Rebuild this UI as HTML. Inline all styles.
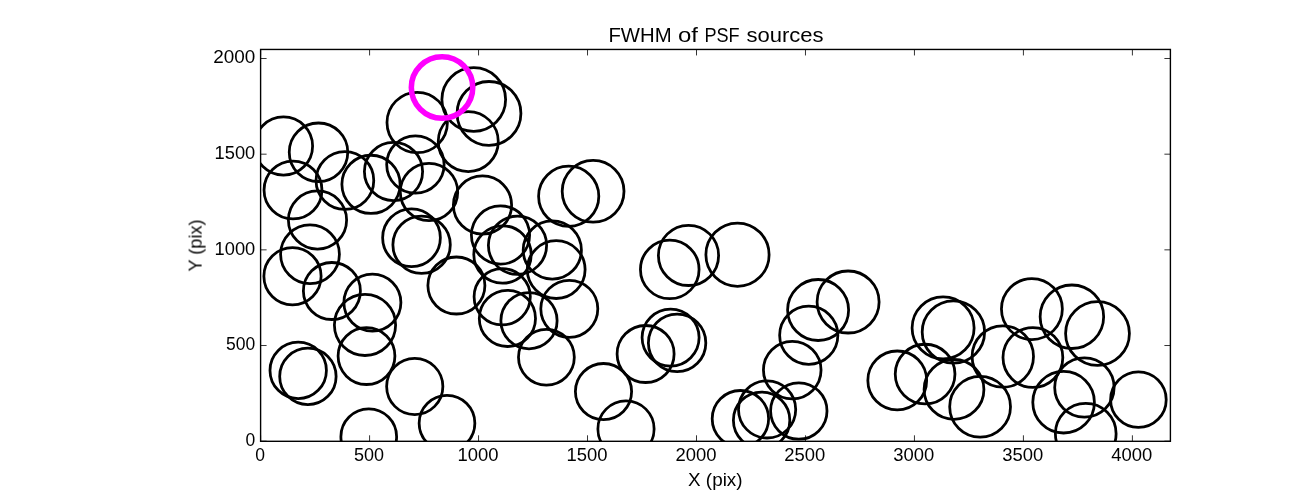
<!DOCTYPE html>
<html><head><meta charset="utf-8"><title>FWHM of PSF sources</title>
<style>
html,body{margin:0;padding:0;background:#fff;}
body{width:1300px;height:490px;overflow:hidden;}
svg{display:block;}
text{font-family:"Liberation Sans",sans-serif;fill:#000;}
</style></head><body>
<svg width="1300" height="490" viewBox="0 0 1300 490">
<rect x="0" y="0" width="1300" height="490" fill="#ffffff"/>
<defs><clipPath id="ax"><rect x="260.60" y="49.45" width="909.80" height="391.85"/></clipPath></defs>

<g clip-path="url(#ax)" fill="none" stroke="#000" stroke-width="2.78">
<circle cx="473.75" cy="99.45" r="31.86"/>
<circle cx="489.00" cy="113.40" r="31.91"/>
<circle cx="417.20" cy="122.50" r="30.21"/>
<circle cx="468.25" cy="141.60" r="30.01"/>
<circle cx="283.50" cy="146.00" r="29.11"/>
<circle cx="318.50" cy="152.25" r="29.26"/>
<circle cx="293.00" cy="190.00" r="28.96"/>
<circle cx="317.50" cy="220.00" r="29.11"/>
<circle cx="344.90" cy="180.50" r="28.86"/>
<circle cx="371.00" cy="184.35" r="29.11"/>
<circle cx="393.50" cy="171.50" r="29.11"/>
<circle cx="415.40" cy="164.50" r="28.71"/>
<circle cx="429.00" cy="192.00" r="28.71"/>
<circle cx="482.50" cy="205.00" r="29.11"/>
<circle cx="568.70" cy="196.20" r="30.11"/>
<circle cx="593.10" cy="191.30" r="30.91"/>
<circle cx="310.00" cy="254.30" r="29.41"/>
<circle cx="292.50" cy="276.30" r="28.61"/>
<circle cx="331.90" cy="291.00" r="28.51"/>
<circle cx="372.40" cy="302.60" r="28.51"/>
<circle cx="365.00" cy="324.90" r="30.61"/>
<circle cx="411.50" cy="237.75" r="28.86"/>
<circle cx="421.60" cy="244.75" r="28.71"/>
<circle cx="456.40" cy="285.50" r="28.51"/>
<circle cx="500.50" cy="235.00" r="29.11"/>
<circle cx="517.50" cy="245.30" r="29.11"/>
<circle cx="502.50" cy="254.50" r="28.71"/>
<circle cx="552.30" cy="250.00" r="29.11"/>
<circle cx="556.20" cy="269.60" r="28.91"/>
<circle cx="502.20" cy="296.80" r="28.11"/>
<circle cx="507.40" cy="318.40" r="28.11"/>
<circle cx="529.00" cy="320.70" r="28.11"/>
<circle cx="569.30" cy="308.80" r="28.51"/>
<circle cx="546.40" cy="357.30" r="27.91"/>
<circle cx="366.50" cy="356.10" r="28.41"/>
<circle cx="298.20" cy="370.40" r="28.21"/>
<circle cx="307.90" cy="376.40" r="28.21"/>
<circle cx="414.75" cy="386.50" r="28.11"/>
<circle cx="447.00" cy="423.25" r="27.86"/>
<circle cx="368.75" cy="436.75" r="27.86"/>
<circle cx="688.50" cy="255.40" r="30.11"/>
<circle cx="737.50" cy="254.70" r="31.61"/>
<circle cx="669.75" cy="269.40" r="29.31"/>
<circle cx="818.10" cy="310.00" r="30.51"/>
<circle cx="848.10" cy="302.00" r="31.01"/>
<circle cx="808.75" cy="335.25" r="29.11"/>
<circle cx="670.60" cy="337.60" r="28.51"/>
<circle cx="677.10" cy="342.90" r="28.71"/>
<circle cx="645.60" cy="354.00" r="28.51"/>
<circle cx="603.50" cy="391.60" r="28.11"/>
<circle cx="626.00" cy="429.00" r="28.11"/>
<circle cx="792.25" cy="370.10" r="28.81"/>
<circle cx="740.40" cy="418.70" r="28.21"/>
<circle cx="767.10" cy="409.40" r="28.61"/>
<circle cx="798.80" cy="411.00" r="28.21"/>
<circle cx="761.60" cy="420.25" r="28.21"/>
<circle cx="943.10" cy="327.90" r="31.01"/>
<circle cx="953.40" cy="332.00" r="31.21"/>
<circle cx="1031.90" cy="309.10" r="30.46"/>
<circle cx="1071.90" cy="316.75" r="31.76"/>
<circle cx="1097.50" cy="333.50" r="31.91"/>
<circle cx="1002.80" cy="356.50" r="30.71"/>
<circle cx="1032.90" cy="357.50" r="29.91"/>
<circle cx="925.10" cy="374.10" r="29.86"/>
<circle cx="897.25" cy="380.40" r="29.41"/>
<circle cx="954.00" cy="389.40" r="29.91"/>
<circle cx="980.10" cy="406.75" r="30.41"/>
<circle cx="1063.60" cy="402.20" r="30.81"/>
<circle cx="1084.40" cy="387.50" r="29.71"/>
<circle cx="1085.75" cy="433.75" r="30.36"/>
<circle cx="1138.40" cy="399.65" r="27.81"/>
<circle cx="442.05" cy="87.45" r="30.72" stroke="#ff00ff" stroke-width="5.56"/>
</g>
<g stroke="#000" stroke-width="0.8" fill="none">
<path d="M260.60 441.30V435.30M260.60 49.45V55.45"/>
<path d="M369.58 441.30V435.30M369.58 49.45V55.45"/>
<path d="M478.55 441.30V435.30M478.55 49.45V55.45"/>
<path d="M587.52 441.30V435.30M587.52 49.45V55.45"/>
<path d="M696.50 441.30V435.30M696.50 49.45V55.45"/>
<path d="M805.48 441.30V435.30M805.48 49.45V55.45"/>
<path d="M914.45 441.30V435.30M914.45 49.45V55.45"/>
<path d="M1023.42 441.30V435.30M1023.42 49.45V55.45"/>
<path d="M1132.40 441.30V435.30M1132.40 49.45V55.45"/>
<path d="M260.60 441.20H266.60M1170.40 441.20H1164.40"/>
<path d="M260.60 345.52H266.60M1170.40 345.52H1164.40"/>
<path d="M260.60 249.85H266.60M1170.40 249.85H1164.40"/>
<path d="M260.60 154.18H266.60M1170.40 154.18H1164.40"/>
<path d="M260.60 58.50H266.60M1170.40 58.50H1164.40"/>
</g>
<rect x="260.60" y="49.45" width="909.80" height="391.85" fill="none" stroke="#000" stroke-width="1.39"/>
<g style="will-change:transform;opacity:0.999">
<text x="608.40" y="42.00" font-size="20.00px" text-anchor="start" textLength="63.2" lengthAdjust="spacingAndGlyphs">FWHM</text>
<text x="678.00" y="42.00" font-size="20.00px" text-anchor="start" textLength="20.0" lengthAdjust="spacingAndGlyphs">of</text>
<text x="704.40" y="42.00" font-size="20.00px" text-anchor="start" textLength="35.2" lengthAdjust="spacingAndGlyphs">PSF</text>
<text x="746.40" y="42.00" font-size="20.00px" text-anchor="start" textLength="77.2" lengthAdjust="spacingAndGlyphs">sources</text>
<text x="715.30" y="485.70" font-size="17.50px" text-anchor="middle" textLength="54.5" lengthAdjust="spacingAndGlyphs">X (pix)</text>
<text transform="translate(201.6,245.5) rotate(-90)" x="0" y="0" font-size="17.50px" text-anchor="middle" textLength="52" lengthAdjust="spacingAndGlyphs">Y (pix)</text>
<text x="260.00" y="460.80" font-size="17.50px" text-anchor="middle">0</text>
<text x="368.98" y="460.80" font-size="17.50px" text-anchor="middle" textLength="30.0" lengthAdjust="spacingAndGlyphs">500</text>
<text x="477.95" y="460.80" font-size="17.50px" text-anchor="middle" textLength="41.0" lengthAdjust="spacingAndGlyphs">1000</text>
<text x="586.92" y="460.80" font-size="17.50px" text-anchor="middle" textLength="41.0" lengthAdjust="spacingAndGlyphs">1500</text>
<text x="695.90" y="460.80" font-size="17.50px" text-anchor="middle" textLength="41.0" lengthAdjust="spacingAndGlyphs">2000</text>
<text x="804.88" y="460.80" font-size="17.50px" text-anchor="middle" textLength="41.0" lengthAdjust="spacingAndGlyphs">2500</text>
<text x="913.85" y="460.80" font-size="17.50px" text-anchor="middle" textLength="41.0" lengthAdjust="spacingAndGlyphs">3000</text>
<text x="1022.82" y="460.80" font-size="17.50px" text-anchor="middle" textLength="41.0" lengthAdjust="spacingAndGlyphs">3500</text>
<text x="1131.80" y="460.80" font-size="17.50px" text-anchor="middle" textLength="41.0" lengthAdjust="spacingAndGlyphs">4000</text>
<text x="255.30" y="446.10" font-size="17.50px" text-anchor="end">0</text>
<text x="255.30" y="350.42" font-size="17.50px" text-anchor="end" textLength="29.2" lengthAdjust="spacingAndGlyphs">500</text>
<text x="255.30" y="254.75" font-size="17.50px" text-anchor="end" textLength="40.7" lengthAdjust="spacingAndGlyphs">1000</text>
<text x="255.30" y="159.08" font-size="17.50px" text-anchor="end" textLength="40.7" lengthAdjust="spacingAndGlyphs">1500</text>
<text x="255.30" y="63.40" font-size="17.50px" text-anchor="end" textLength="42.0" lengthAdjust="spacingAndGlyphs">2000</text>
</g>
</svg></body></html>
